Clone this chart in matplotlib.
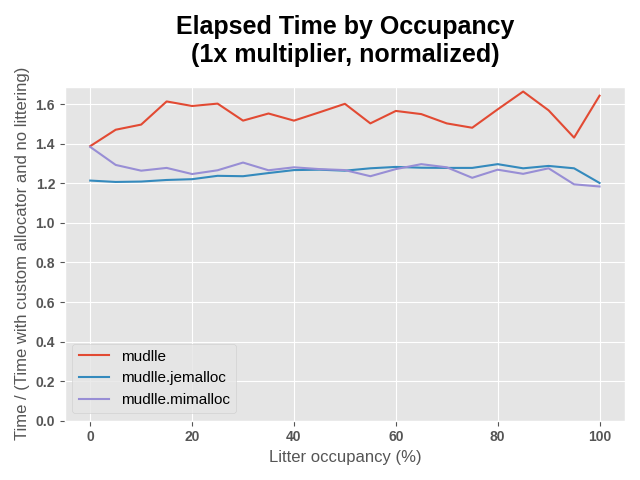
import matplotlib
matplotlib.use("Agg")
import matplotlib.pyplot as plt

plt.style.use("ggplot")
plt.rcParams['font.family'] = ['Liberation Sans', 'DejaVu Sans']

occupancy = [0, 5, 10, 15, 20, 25, 30, 35, 40, 45, 50, 55, 60, 65, 70, 75, 80, 85, 90, 95, 100]
mudlle = [1.388, 1.471, 1.497, 1.614, 1.591, 1.603, 1.517, 1.553, 1.517, 1.559, 1.602,
          1.503, 1.566, 1.550, 1.503, 1.481, 1.574, 1.664, 1.569, 1.431, 1.643]
jemalloc = [1.214, 1.207, 1.209, 1.217, 1.221, 1.238, 1.236, 1.252, 1.267, 1.269, 1.264,
            1.276, 1.283, 1.279, 1.278, 1.278, 1.297, 1.276, 1.288, 1.276, 1.202]
mimalloc = [1.384, 1.293, 1.264, 1.278, 1.247, 1.266, 1.305, 1.266, 1.281, 1.272, 1.267,
            1.236, 1.272, 1.297, 1.281, 1.228, 1.269, 1.248, 1.276, 1.195, 1.184]

fig, ax = plt.subplots(figsize=(6.4, 4.8), dpi=100)
ax.plot(occupancy, mudlle, label="mudlle")
ax.plot(occupancy, jemalloc, label="mudlle.jemalloc")
ax.plot(occupancy, mimalloc, label="mudlle.mimalloc")
ax.set_ylim(bottom=0)
ax.set_title("Elapsed Time by Occupancy\n(1x multiplier, normalized)",
             fontsize=18, fontweight="bold", color="black", pad=18)
ax.set_xlabel("Litter occupancy (%)")
ax.set_ylabel("Time / (Time with custom allocator and no littering)")
for lbl in ax.get_xticklabels() + ax.get_yticklabels():
    lbl.set_fontweight("bold")
ax.legend(loc="lower left", fontsize=11)
plt.tight_layout()
plt.savefig("out.png")
